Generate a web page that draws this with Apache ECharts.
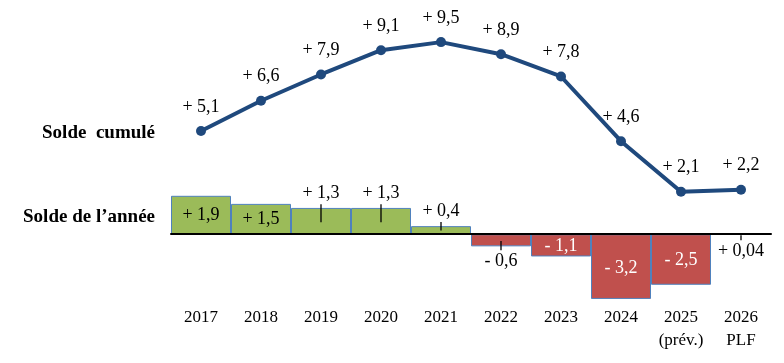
<!DOCTYPE html>
<html>
<head>
<meta charset="utf-8">
<script src="https://cdn.jsdelivr.net/npm/echarts@6/dist/echarts.min.js"></script>
<style>html,body{margin:0;padding:0;background:#fff}#c{width:784px;height:363px}</style>
</head>
<body>
<div id="c"></div>
<script>
const categories = ['2017','2018','2019','2020','2021','2022','2023','2024','2025\n(prév.)','2026\nPLF'];
const annualBalance = [1.9, 1.5, 1.3, 1.3, 0.4, -0.6, -1.1, -3.2, -2.5, 0.04];
const cumulativeBalance = [5.1, 6.6, 7.9, 9.1, 9.5, 8.9, 7.8, 4.6, 2.1, 2.2];
const rowLabels = ['Solde  cumulé', 'Solde de l\u2019année'];

const FONT = '"Liberation Serif", "Times New Roman", serif';
const fmt = v => (v < 0 ? '- ' : '+ ') + String(Math.abs(v)).replace('.', ',');

function tickRich(h) {
  return {
    v: { fontFamily: FONT, fontSize: 18, lineHeight: 22, color: '#000' },
    t: { width: 1.3, height: h, lineHeight: h, backgroundColor: '#000', fontSize: 1 }
  };
}
// label layout per bar index
function barLabel(i, v) {
  const txt = fmt(v);
  if (i <= 1) return { show: true, position: 'inside', color: '#000', fontFamily: FONT, fontSize: 18, formatter: txt };
  if (i >= 6 && i <= 8) return { show: true, position: 'inside', offset: [0, i === 7 ? 2 : 1], color: '#fff', fontFamily: FONT, fontSize: 18, formatter: txt };
  if (i === 2 || i === 3) return { show: true, position: 'outside', distance: -14.4, formatter: '{v|' + txt + '}\n{t| }', rich: tickRich(18) };
  if (i === 4) return { show: true, position: 'outside', distance: -4.4, formatter: '{v|' + txt + '}\n{t| }', rich: tickRich(8.5) };
  if (i === 5) return { show: true, position: 'outside', distance: -5.3, formatter: '{t| }\n{v|' + txt + '}', rich: tickRich(9.3) };
  return { show: true, position: 'bottom', distance: 1, formatter: '{t| }\n{v|' + txt + '}', rich: tickRich(5) };
}

const barData = annualBalance.map((v, i) => ({
  value: v,
  itemStyle: { color: v >= 0 ? '#9BBB59' : '#C0504D' },
  label: barLabel(i, v)
}));

const chart = echarts.init(document.getElementById('c'), null, { renderer: 'canvas' });
chart.setOption({
  animation: false,
  backgroundColor: '#fff',
  grid: { left: 171, width: 600, top: 32, height: 273 },
  xAxis: [
    {
      type: 'category', data: categories, position: 'bottom',
      axisLine: { show: false, onZero: false }, axisTick: { show: false },
      axisLabel: { color: '#000', fontFamily: FONT, fontSize: 17, lineHeight: 23, margin: 1 }
    },
    {
      type: 'category', data: categories, position: 'top', z: 5,
      axisLine: { show: true, onZero: true, lineStyle: { color: '#000', width: 2 } },
      axisTick: { show: false }, axisLabel: { show: false }
    }
  ],
  yAxis: { type: 'value', min: -3.5, max: 10, show: false, splitLine: { show: false } },
  graphic: [
    { type: 'text', x: 155, y: 133, style: { text: rowLabels[0], font: 'bold 19px ' + FONT, fill: '#000', align: 'right', verticalAlign: 'middle' } },
    { type: 'text', x: 155, y: 217, style: { text: rowLabels[1], font: 'bold 19px ' + FONT, fill: '#000', align: 'right', verticalAlign: 'middle' } }
  ],
  series: [
    {
      type: 'bar', xAxisIndex: 0, data: barData, barCategoryGap: '0%', barWidth: '100%',
      itemStyle: { borderColor: '#4F81BD', borderWidth: 1 }
    },
    {
      type: 'line', xAxisIndex: 0, data: cumulativeBalance, symbol: 'circle', symbolSize: 10,
      lineStyle: { color: '#1F497D', width: 4 }, itemStyle: { color: '#1F497D' },
      label: { show: true, position: 'top', distance: 10, color: '#000', fontFamily: FONT, fontSize: 18, formatter: p => fmt(p.value) }
    }
  ]
});
</script>
</body>
</html>
